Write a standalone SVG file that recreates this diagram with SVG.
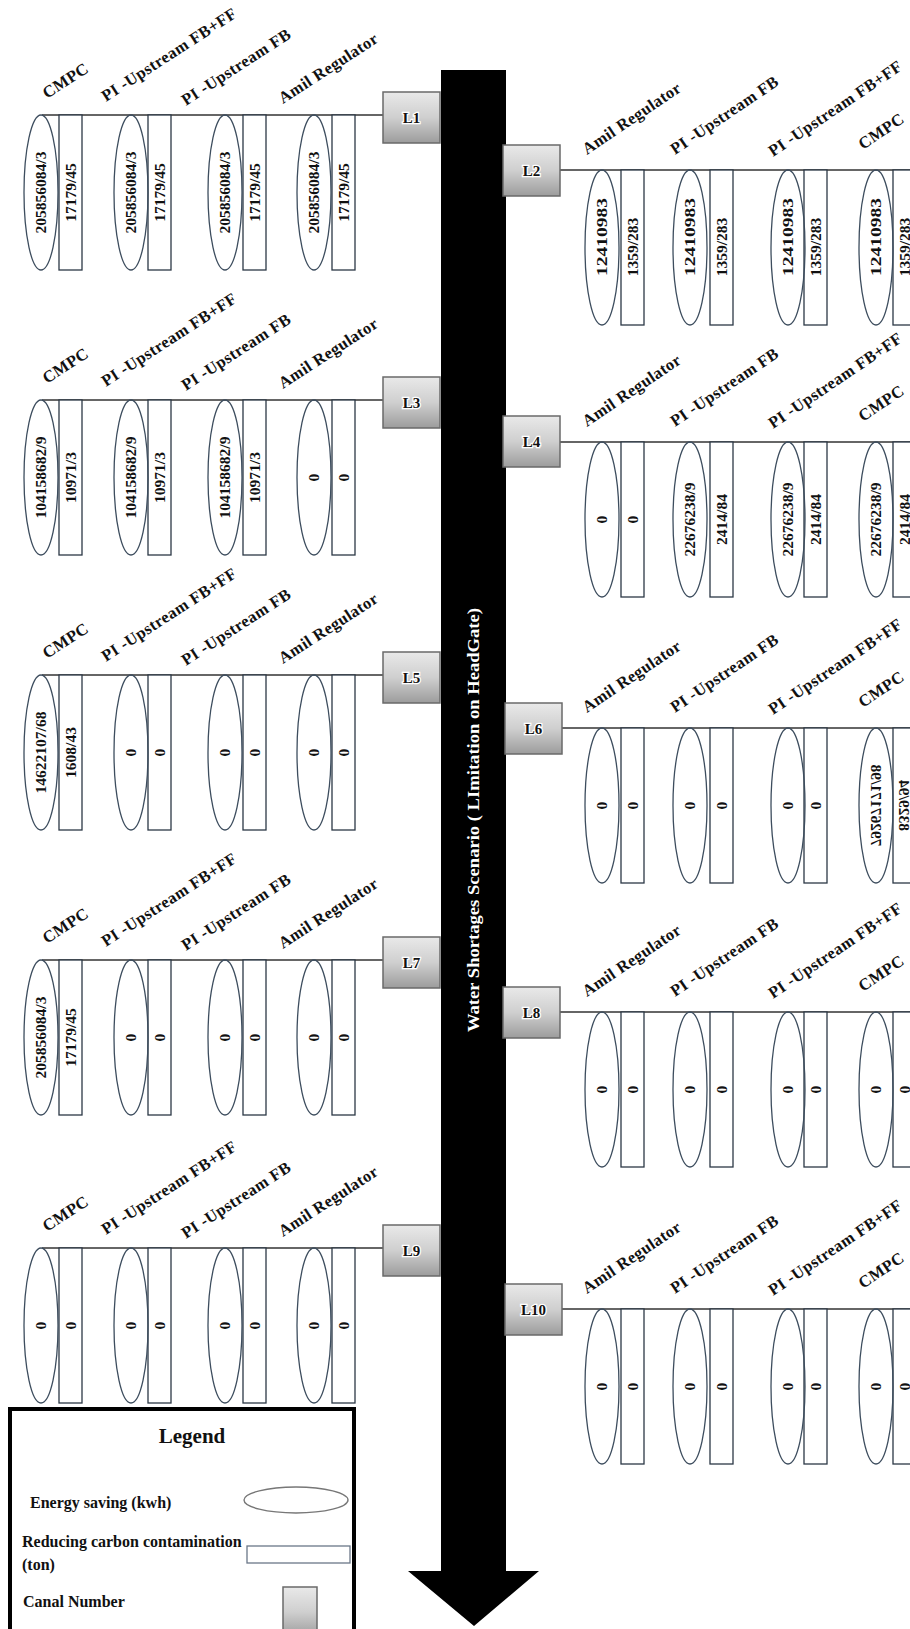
<svg xmlns="http://www.w3.org/2000/svg" width="910" height="1629" viewBox="0 0 910 1629">
<style>
.t{font-family:"Liberation Serif",serif;font-weight:bold;font-size:16.5px;letter-spacing:0.4px;fill:#111}
.n{font-family:"Liberation Serif",serif;font-weight:bold;font-size:15.5px;fill:#111;text-anchor:middle}
.e{fill:none;stroke:#3d4d5e;stroke-width:1.3}
.r{fill:#fff;stroke:#2c3846;stroke-width:1.3}
.ln{stroke:#333;stroke-width:1.6}
.bx{fill:url(#gb);stroke:#6a6a6a;stroke-width:1.5}
.bt{font-family:"Liberation Serif",serif;font-weight:bold;font-size:15px;fill:#111;text-anchor:middle;stroke:#fff;stroke-width:2.5;paint-order:stroke}
.lg{font-family:"Liberation Serif",serif;font-weight:bold;font-size:16px;fill:#111}
</style>
<defs>
<linearGradient id="gb" x1="0" y1="0" x2="0" y2="1">
<stop offset="0" stop-color="#e9e9e9"/>
<stop offset="0.5" stop-color="#cfcfcf"/>
<stop offset="1" stop-color="#9c9c9c"/>
</linearGradient>
</defs>
<rect width="910" height="1629" fill="#fff"/>

<g id="arrow">
<polygon points="441,70 506,70 506,1571 539,1571 474,1626 408,1571 441,1571" fill="#000"/>
<text transform="translate(479,820) rotate(-90)" text-anchor="middle" font-family="Liberation Serif,serif" font-weight="bold" font-size="17.5" fill="#fff" textLength="424" lengthAdjust="spacingAndGlyphs">Water Shortages Scenario ( LImitation on HeadGate)</text>
</g>

<g id="L1" transform="translate(0,115)">
<line class="ln" x1="42" y1="0" x2="383" y2="0"/>
<rect class="r" x="59" y="0" width="23" height="155"/><rect class="r" x="148" y="0" width="23" height="155"/><rect class="r" x="243" y="0" width="23" height="155"/><rect class="r" x="332" y="0" width="23" height="155"/>
<ellipse class="e" cx="41" cy="77.5" rx="17" ry="77.5"/><ellipse class="e" cx="131" cy="77.5" rx="17" ry="77.5"/><ellipse class="e" cx="225" cy="77.5" rx="17" ry="77.5"/><ellipse class="e" cx="314" cy="77.5" rx="17" ry="77.5"/>
<text class="t" transform="translate(47,-16) rotate(-33)">CMPC</text>
<text class="t" transform="translate(106,-13) rotate(-33)">PI -Upstream FB+FF</text>
<text class="t" transform="translate(186,-9) rotate(-33)">PI -Upstream FB</text>
<text class="t" transform="translate(283,-11) rotate(-33)">Amil Regulator</text>
<text class="n" transform="translate(41,77.5) rotate(-90)" dy="0.35em">205856084/3</text>
<text class="n" transform="translate(131,77.5) rotate(-90)" dy="0.35em">205856084/3</text>
<text class="n" transform="translate(225,77.5) rotate(-90)" dy="0.35em">205856084/3</text>
<text class="n" transform="translate(314,77.5) rotate(-90)" dy="0.35em">205856084/3</text>
<text class="n" transform="translate(70.5,77.5) rotate(-90)" dy="0.35em">17179/45</text>
<text class="n" transform="translate(159.5,77.5) rotate(-90)" dy="0.35em">17179/45</text>
<text class="n" transform="translate(254.5,77.5) rotate(-90)" dy="0.35em">17179/45</text>
<text class="n" transform="translate(343.5,77.5) rotate(-90)" dy="0.35em">17179/45</text>
<rect class="bx" x="383" y="-23" width="57" height="51"/>
<text class="bt" x="411.5" y="8">L1</text>
</g>

<g id="L3" transform="translate(0,400)">
<line class="ln" x1="42" y1="0" x2="383" y2="0"/>
<rect class="r" x="59" y="0" width="23" height="155"/><rect class="r" x="148" y="0" width="23" height="155"/><rect class="r" x="243" y="0" width="23" height="155"/><rect class="r" x="332" y="0" width="23" height="155"/>
<ellipse class="e" cx="41" cy="77.5" rx="17" ry="77.5"/><ellipse class="e" cx="131" cy="77.5" rx="17" ry="77.5"/><ellipse class="e" cx="225" cy="77.5" rx="17" ry="77.5"/><ellipse class="e" cx="314" cy="77.5" rx="17" ry="77.5"/>
<text class="t" transform="translate(47,-16) rotate(-33)">CMPC</text>
<text class="t" transform="translate(106,-13) rotate(-33)">PI -Upstream FB+FF</text>
<text class="t" transform="translate(186,-9) rotate(-33)">PI -Upstream FB</text>
<text class="t" transform="translate(283,-11) rotate(-33)">Amil Regulator</text>
<text class="n" transform="translate(41,77.5) rotate(-90)" dy="0.35em">104158682/9</text>
<text class="n" transform="translate(131,77.5) rotate(-90)" dy="0.35em">104158682/9</text>
<text class="n" transform="translate(225,77.5) rotate(-90)" dy="0.35em">104158682/9</text>
<text class="n" transform="translate(314,77.5) rotate(-90)" dy="0.35em">0</text>
<text class="n" transform="translate(70.5,77.5) rotate(-90)" dy="0.35em">10971/3</text>
<text class="n" transform="translate(159.5,77.5) rotate(-90)" dy="0.35em">10971/3</text>
<text class="n" transform="translate(254.5,77.5) rotate(-90)" dy="0.35em">10971/3</text>
<text class="n" transform="translate(343.5,77.5) rotate(-90)" dy="0.35em">0</text>
<rect class="bx" x="383" y="-23" width="57" height="51"/>
<text class="bt" x="411.5" y="8">L3</text>
</g>

<g id="L5" transform="translate(0,675)">
<line class="ln" x1="42" y1="0" x2="383" y2="0"/>
<rect class="r" x="59" y="0" width="23" height="155"/><rect class="r" x="148" y="0" width="23" height="155"/><rect class="r" x="243" y="0" width="23" height="155"/><rect class="r" x="332" y="0" width="23" height="155"/>
<ellipse class="e" cx="41" cy="77.5" rx="17" ry="77.5"/><ellipse class="e" cx="131" cy="77.5" rx="17" ry="77.5"/><ellipse class="e" cx="225" cy="77.5" rx="17" ry="77.5"/><ellipse class="e" cx="314" cy="77.5" rx="17" ry="77.5"/>
<text class="t" transform="translate(47,-16) rotate(-33)">CMPC</text>
<text class="t" transform="translate(106,-13) rotate(-33)">PI -Upstream FB+FF</text>
<text class="t" transform="translate(186,-9) rotate(-33)">PI -Upstream FB</text>
<text class="t" transform="translate(283,-11) rotate(-33)">Amil Regulator</text>
<text class="n" transform="translate(41,77.5) rotate(-90)" dy="0.35em">14622107/68</text>
<text class="n" transform="translate(131,77.5) rotate(-90)" dy="0.35em">0</text>
<text class="n" transform="translate(225,77.5) rotate(-90)" dy="0.35em">0</text>
<text class="n" transform="translate(314,77.5) rotate(-90)" dy="0.35em">0</text>
<text class="n" transform="translate(70.5,77.5) rotate(-90)" dy="0.35em">1608/43</text>
<text class="n" transform="translate(159.5,77.5) rotate(-90)" dy="0.35em">0</text>
<text class="n" transform="translate(254.5,77.5) rotate(-90)" dy="0.35em">0</text>
<text class="n" transform="translate(343.5,77.5) rotate(-90)" dy="0.35em">0</text>
<rect class="bx" x="383" y="-23" width="57" height="51"/>
<text class="bt" x="411.5" y="8">L5</text>
</g>

<g id="L7" transform="translate(0,960)">
<line class="ln" x1="42" y1="0" x2="383" y2="0"/>
<rect class="r" x="59" y="0" width="23" height="155"/><rect class="r" x="148" y="0" width="23" height="155"/><rect class="r" x="243" y="0" width="23" height="155"/><rect class="r" x="332" y="0" width="23" height="155"/>
<ellipse class="e" cx="41" cy="77.5" rx="17" ry="77.5"/><ellipse class="e" cx="131" cy="77.5" rx="17" ry="77.5"/><ellipse class="e" cx="225" cy="77.5" rx="17" ry="77.5"/><ellipse class="e" cx="314" cy="77.5" rx="17" ry="77.5"/>
<text class="t" transform="translate(47,-16) rotate(-33)">CMPC</text>
<text class="t" transform="translate(106,-13) rotate(-33)">PI -Upstream FB+FF</text>
<text class="t" transform="translate(186,-9) rotate(-33)">PI -Upstream FB</text>
<text class="t" transform="translate(283,-11) rotate(-33)">Amil Regulator</text>
<text class="n" transform="translate(41,77.5) rotate(-90)" dy="0.35em">205856084/3</text>
<text class="n" transform="translate(131,77.5) rotate(-90)" dy="0.35em">0</text>
<text class="n" transform="translate(225,77.5) rotate(-90)" dy="0.35em">0</text>
<text class="n" transform="translate(314,77.5) rotate(-90)" dy="0.35em">0</text>
<text class="n" transform="translate(70.5,77.5) rotate(-90)" dy="0.35em">17179/45</text>
<text class="n" transform="translate(159.5,77.5) rotate(-90)" dy="0.35em">0</text>
<text class="n" transform="translate(254.5,77.5) rotate(-90)" dy="0.35em">0</text>
<text class="n" transform="translate(343.5,77.5) rotate(-90)" dy="0.35em">0</text>
<rect class="bx" x="383" y="-23" width="57" height="51"/>
<text class="bt" x="411.5" y="8">L7</text>
</g>

<g id="L9" transform="translate(0,1248)">
<line class="ln" x1="42" y1="0" x2="383" y2="0"/>
<rect class="r" x="59" y="0" width="23" height="155"/><rect class="r" x="148" y="0" width="23" height="155"/><rect class="r" x="243" y="0" width="23" height="155"/><rect class="r" x="332" y="0" width="23" height="155"/>
<ellipse class="e" cx="41" cy="77.5" rx="17" ry="77.5"/><ellipse class="e" cx="131" cy="77.5" rx="17" ry="77.5"/><ellipse class="e" cx="225" cy="77.5" rx="17" ry="77.5"/><ellipse class="e" cx="314" cy="77.5" rx="17" ry="77.5"/>
<text class="t" transform="translate(47,-16) rotate(-33)">CMPC</text>
<text class="t" transform="translate(106,-13) rotate(-33)">PI -Upstream FB+FF</text>
<text class="t" transform="translate(186,-9) rotate(-33)">PI -Upstream FB</text>
<text class="t" transform="translate(283,-11) rotate(-33)">Amil Regulator</text>
<text class="n" transform="translate(41,77.5) rotate(-90)" dy="0.35em">0</text>
<text class="n" transform="translate(131,77.5) rotate(-90)" dy="0.35em">0</text>
<text class="n" transform="translate(225,77.5) rotate(-90)" dy="0.35em">0</text>
<text class="n" transform="translate(314,77.5) rotate(-90)" dy="0.35em">0</text>
<text class="n" transform="translate(70.5,77.5) rotate(-90)" dy="0.35em">0</text>
<text class="n" transform="translate(159.5,77.5) rotate(-90)" dy="0.35em">0</text>
<text class="n" transform="translate(254.5,77.5) rotate(-90)" dy="0.35em">0</text>
<text class="n" transform="translate(343.5,77.5) rotate(-90)" dy="0.35em">0</text>
<rect class="bx" x="383" y="-23" width="57" height="51"/>
<text class="bt" x="411.5" y="8">L9</text>
</g>

<g id="L2" transform="translate(0,170)">
<line class="ln" x1="560" y1="0" x2="910" y2="0"/>
<rect class="r" x="621" y="0" width="23" height="155"/><rect class="r" x="710" y="0" width="23" height="155"/><rect class="r" x="804" y="0" width="23" height="155"/><rect class="r" x="893" y="0" width="23" height="155"/>
<ellipse class="e" cx="602" cy="77.5" rx="17" ry="77.5"/><ellipse class="e" cx="690" cy="77.5" rx="17" ry="77.5"/><ellipse class="e" cx="788" cy="77.5" rx="17" ry="77.5"/><ellipse class="e" cx="876" cy="77.5" rx="17" ry="77.5"/>
<text class="t" transform="translate(587,-15) rotate(-34)">Amil Regulator</text>
<text class="t" transform="translate(675,-15) rotate(-34)">PI -Upstream FB</text>
<text class="t" transform="translate(773,-13) rotate(-34)">PI -Upstream FB+FF</text>
<text class="t" transform="translate(863,-20) rotate(-34)">CMPC</text>
<text class="n" transform="translate(602,67) rotate(-90)" dy="0.35em" textLength="78" lengthAdjust="spacingAndGlyphs">12410983</text>
<text class="n" transform="translate(690,67) rotate(-90)" dy="0.35em" textLength="78" lengthAdjust="spacingAndGlyphs">12410983</text>
<text class="n" transform="translate(788,67) rotate(-90)" dy="0.35em" textLength="78" lengthAdjust="spacingAndGlyphs">12410983</text>
<text class="n" transform="translate(876,67) rotate(-90)" dy="0.35em" textLength="78" lengthAdjust="spacingAndGlyphs">12410983</text>
<text class="n" transform="translate(632.5,77) rotate(-90)" dy="0.35em">1359/283</text>
<text class="n" transform="translate(721.5,77) rotate(-90)" dy="0.35em">1359/283</text>
<text class="n" transform="translate(815.5,77) rotate(-90)" dy="0.35em">1359/283</text>
<text class="n" transform="translate(904.5,77) rotate(-90)" dy="0.35em">1359/283</text>
<rect class="bx" x="503" y="-25" width="57" height="51"/>
<text class="bt" x="531.5" y="6">L2</text>
</g>

<g id="L4" transform="translate(0,442)">
<line class="ln" x1="560" y1="0" x2="910" y2="0"/>
<rect class="r" x="621" y="0" width="23" height="155"/><rect class="r" x="710" y="0" width="23" height="155"/><rect class="r" x="804" y="0" width="23" height="155"/><rect class="r" x="893" y="0" width="23" height="155"/>
<ellipse class="e" cx="602" cy="77.5" rx="17" ry="77.5"/><ellipse class="e" cx="690" cy="77.5" rx="17" ry="77.5"/><ellipse class="e" cx="788" cy="77.5" rx="17" ry="77.5"/><ellipse class="e" cx="876" cy="77.5" rx="17" ry="77.5"/>
<text class="t" transform="translate(587,-15) rotate(-34)">Amil Regulator</text>
<text class="t" transform="translate(675,-15) rotate(-34)">PI -Upstream FB</text>
<text class="t" transform="translate(773,-13) rotate(-34)">PI -Upstream FB+FF</text>
<text class="t" transform="translate(863,-20) rotate(-34)">CMPC</text>
<text class="n" transform="translate(602,77.5) rotate(-90)" dy="0.35em">0</text>
<text class="n" transform="translate(690,77.5) rotate(-90)" dy="0.35em">22676238/9</text>
<text class="n" transform="translate(788,77.5) rotate(-90)" dy="0.35em">22676238/9</text>
<text class="n" transform="translate(876,77.5) rotate(-90)" dy="0.35em">22676238/9</text>
<text class="n" transform="translate(632.5,77.5) rotate(-90)" dy="0.35em">0</text>
<text class="n" transform="translate(721.5,77.5) rotate(-90)" dy="0.35em">2414/84</text>
<text class="n" transform="translate(815.5,77.5) rotate(-90)" dy="0.35em">2414/84</text>
<text class="n" transform="translate(904.5,77.5) rotate(-90)" dy="0.35em">2414/84</text>
<rect class="bx" x="503" y="-26" width="57" height="51"/>
<text class="bt" x="531.5" y="5">L4</text>
</g>

<g id="L6" transform="translate(0,728)">
<line class="ln" x1="562" y1="0" x2="910" y2="0"/>
<rect class="r" x="621" y="0" width="23" height="155"/><rect class="r" x="710" y="0" width="23" height="155"/><rect class="r" x="804" y="0" width="23" height="155"/><rect class="r" x="893" y="0" width="23" height="155"/>
<ellipse class="e" cx="602" cy="77.5" rx="17" ry="77.5"/><ellipse class="e" cx="690" cy="77.5" rx="17" ry="77.5"/><ellipse class="e" cx="788" cy="77.5" rx="17" ry="77.5"/><ellipse class="e" cx="876" cy="77.5" rx="17" ry="77.5"/>
<text class="t" transform="translate(587,-15) rotate(-34)">Amil Regulator</text>
<text class="t" transform="translate(675,-15) rotate(-34)">PI -Upstream FB</text>
<text class="t" transform="translate(773,-13) rotate(-34)">PI -Upstream FB+FF</text>
<text class="t" transform="translate(863,-20) rotate(-34)">CMPC</text>
<text class="n" transform="translate(602,77.5) rotate(-90)" dy="0.35em">0</text>
<text class="n" transform="translate(690,77.5) rotate(-90)" dy="0.35em">0</text>
<text class="n" transform="translate(788,77.5) rotate(-90)" dy="0.35em">0</text>
<text class="n" transform="translate(876,77.5) rotate(-90) scale(1,-1)" dy="0.35em">79267171/98</text>
<text class="n" transform="translate(632.5,77.5) rotate(-90)" dy="0.35em">0</text>
<text class="n" transform="translate(721.5,77.5) rotate(-90)" dy="0.35em">0</text>
<text class="n" transform="translate(815.5,77.5) rotate(-90)" dy="0.35em">0</text>
<text class="n" transform="translate(904.5,77.5) rotate(-90) scale(1,-1)" dy="0.35em">8329/94</text>
<rect class="bx" x="505" y="-25" width="57" height="51"/>
<text class="bt" x="533.5" y="6">L6</text>
</g>

<g id="L8" transform="translate(0,1012)">
<line class="ln" x1="560" y1="0" x2="910" y2="0"/>
<rect class="r" x="621" y="0" width="23" height="155"/><rect class="r" x="710" y="0" width="23" height="155"/><rect class="r" x="804" y="0" width="23" height="155"/><rect class="r" x="893" y="0" width="23" height="155"/>
<ellipse class="e" cx="602" cy="77.5" rx="17" ry="77.5"/><ellipse class="e" cx="690" cy="77.5" rx="17" ry="77.5"/><ellipse class="e" cx="788" cy="77.5" rx="17" ry="77.5"/><ellipse class="e" cx="876" cy="77.5" rx="17" ry="77.5"/>
<text class="t" transform="translate(587,-15) rotate(-34)">Amil Regulator</text>
<text class="t" transform="translate(675,-15) rotate(-34)">PI -Upstream FB</text>
<text class="t" transform="translate(773,-13) rotate(-34)">PI -Upstream FB+FF</text>
<text class="t" transform="translate(863,-20) rotate(-34)">CMPC</text>
<text class="n" transform="translate(602,77.5) rotate(-90)" dy="0.35em">0</text>
<text class="n" transform="translate(690,77.5) rotate(-90)" dy="0.35em">0</text>
<text class="n" transform="translate(788,77.5) rotate(-90)" dy="0.35em">0</text>
<text class="n" transform="translate(876,77.5) rotate(-90)" dy="0.35em">0</text>
<text class="n" transform="translate(632.5,77.5) rotate(-90)" dy="0.35em">0</text>
<text class="n" transform="translate(721.5,77.5) rotate(-90)" dy="0.35em">0</text>
<text class="n" transform="translate(815.5,77.5) rotate(-90)" dy="0.35em">0</text>
<text class="n" transform="translate(904.5,77.5) rotate(-90)" dy="0.35em">0</text>
<rect class="bx" x="503" y="-25" width="57" height="51"/>
<text class="bt" x="531.5" y="6">L8</text>
</g>

<g id="L10" transform="translate(0,1309)">
<line class="ln" x1="562" y1="0" x2="910" y2="0"/>
<rect class="r" x="621" y="0" width="23" height="155"/><rect class="r" x="710" y="0" width="23" height="155"/><rect class="r" x="804" y="0" width="23" height="155"/><rect class="r" x="893" y="0" width="23" height="155"/>
<ellipse class="e" cx="602" cy="77.5" rx="17" ry="77.5"/><ellipse class="e" cx="690" cy="77.5" rx="17" ry="77.5"/><ellipse class="e" cx="788" cy="77.5" rx="17" ry="77.5"/><ellipse class="e" cx="876" cy="77.5" rx="17" ry="77.5"/>
<text class="t" transform="translate(587,-15) rotate(-34)">Amil Regulator</text>
<text class="t" transform="translate(675,-15) rotate(-34)">PI -Upstream FB</text>
<text class="t" transform="translate(773,-13) rotate(-34)">PI -Upstream FB+FF</text>
<text class="t" transform="translate(863,-20) rotate(-34)">CMPC</text>
<text class="n" transform="translate(602,77.5) rotate(-90)" dy="0.35em">0</text>
<text class="n" transform="translate(690,77.5) rotate(-90)" dy="0.35em">0</text>
<text class="n" transform="translate(788,77.5) rotate(-90)" dy="0.35em">0</text>
<text class="n" transform="translate(876,77.5) rotate(-90)" dy="0.35em">0</text>
<text class="n" transform="translate(632.5,77.5) rotate(-90)" dy="0.35em">0</text>
<text class="n" transform="translate(721.5,77.5) rotate(-90)" dy="0.35em">0</text>
<text class="n" transform="translate(815.5,77.5) rotate(-90)" dy="0.35em">0</text>
<text class="n" transform="translate(904.5,77.5) rotate(-90)" dy="0.35em">0</text>
<rect class="bx" x="505" y="-25" width="57" height="51"/>
<text class="bt" x="533.5" y="6">L10</text>
</g>

<g id="legend">
<rect x="10" y="1409" width="344" height="240" fill="#fff" stroke="#000" stroke-width="4"/>
<text x="192" y="1443" text-anchor="middle" font-family="Liberation Serif,serif" font-weight="bold" font-size="21" fill="#111">Legend</text>
<text class="lg" x="30" y="1508">Energy saving (kwh)</text>
<ellipse cx="296" cy="1500" rx="52" ry="13" fill="none" stroke="#777" stroke-width="1.4"/>
<text class="lg" x="22" y="1547">Reducing carbon contamination</text>
<text class="lg" x="22" y="1570">(ton)</text>
<rect x="247" y="1546" width="103" height="17" fill="none" stroke="#6a7788" stroke-width="1.3"/>
<text class="lg" x="23" y="1607">Canal Number</text>
<rect class="bx" x="283" y="1587" width="34" height="50"/>
</g>
</svg>
